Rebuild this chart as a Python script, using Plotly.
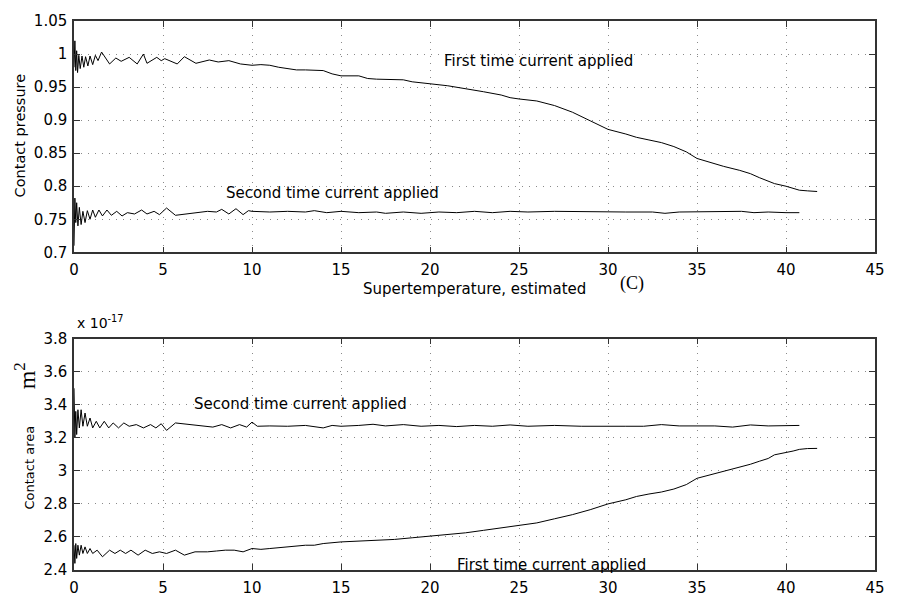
import plotly.graph_objects as go

# ---------------- data ----------------
# Top panel: contact pressure vs supertemperature (C)
p_first_x = [0, 0.05, 0.1, 0.15, 0.2, 0.27, 0.35, 0.45, 0.55, 0.65, 0.78, 0.9, 1.05, 1.2, 1.35,
             1.55, 2.0, 2.35, 2.65, 3.1, 3.55, 3.9, 4.1, 4.65, 4.9, 5.1, 5.8, 6.2, 6.85, 7.6,
             8.1, 8.7, 9.35, 10, 10.5, 11, 11.5, 12, 12.5, 13, 13.5, 14, 14.5, 15, 16, 16.5,
             17, 18, 18.5, 19, 19.5, 20, 21, 21.5, 22, 23, 24, 24.5, 25, 26, 27, 28, 29, 30,
             31, 31.6, 32.3, 33, 33.7, 34.4, 35, 35.7, 36.5, 37.4, 38, 38.5, 39, 39.35, 40,
             40.4, 40.75, 41.2, 41.75]
p_first_y = [0.98, 1.02, 0.975, 1.005, 0.972, 0.998, 0.978, 0.997, 0.98, 0.996, 0.982, 0.997,
             0.984, 0.998, 0.99, 1.003, 0.985, 0.994, 0.989, 0.995, 0.985, 1.0, 0.986, 0.995,
             0.99, 0.993, 0.985, 0.996, 0.986, 0.991, 0.988, 0.99, 0.985, 0.983, 0.984, 0.983,
             0.98, 0.978, 0.976, 0.976, 0.975, 0.975, 0.97, 0.967, 0.967, 0.963, 0.962, 0.962,
             0.961, 0.958, 0.956, 0.955, 0.952, 0.95, 0.948, 0.943, 0.938, 0.934, 0.932, 0.929,
             0.922, 0.912, 0.899, 0.886, 0.879, 0.874, 0.87, 0.866, 0.86, 0.852, 0.842, 0.836,
             0.83, 0.824, 0.819, 0.813, 0.808, 0.804, 0.8, 0.797, 0.794, 0.793, 0.792]

p_second_x = [0, 0.05, 0.1, 0.15, 0.22, 0.3, 0.4, 0.5, 0.62, 0.75, 0.9, 1.05, 1.2, 1.4, 1.6,
              1.85, 2.1, 2.4, 2.7, 3.0, 3.4, 3.8, 4.1, 4.5, 4.8, 5.2, 5.7, 6.5, 7.5, 8.0, 8.3,
              8.7, 9.1, 9.5, 9.8, 10, 11, 12, 13, 13.5, 14.2, 15, 16, 17, 17.5, 18.5, 19.5,
              20.5, 21.5, 22.5, 23.5, 24.5, 25.5, 27, 29, 31, 32.5, 33.2, 34, 35, 36.5, 37.5,
              38.2, 39, 40, 40.75]
p_second_y = [0.71, 0.782, 0.745, 0.775, 0.74, 0.768, 0.742, 0.762, 0.745, 0.763, 0.75, 0.764,
              0.753, 0.764, 0.755, 0.764, 0.756, 0.762, 0.755, 0.76, 0.758, 0.764, 0.758, 0.762,
              0.757, 0.767, 0.756, 0.759, 0.762, 0.761, 0.765, 0.758, 0.766, 0.757, 0.763, 0.762,
              0.761, 0.762, 0.761, 0.763, 0.76, 0.762, 0.76, 0.761, 0.759, 0.761, 0.759, 0.761,
              0.76, 0.762, 0.76, 0.762, 0.761, 0.762, 0.761, 0.761, 0.761, 0.759, 0.761, 0.761,
              0.761, 0.762, 0.76, 0.761, 0.76, 0.76]

# Bottom panel: contact area (units of 1e-17 m^2)
a_second_x = [0, 0.05, 0.1, 0.15, 0.22, 0.3, 0.4, 0.5, 0.62, 0.75, 0.9, 1.05, 1.25, 1.45, 1.7,
              1.95, 2.2, 2.5, 2.8, 3.1, 3.5, 3.9, 4.3, 4.6, 4.9, 5.2, 5.7, 6.5, 7.3, 7.8, 8.3,
              8.8, 9.3, 9.7, 10, 10.3, 11, 12, 13, 14, 14.5, 15, 16, 16.8, 17.5, 18.5, 19.5,
              20.5, 21.5, 22.5, 23.5, 24.5, 25.5, 27, 28.5, 30, 31, 32, 33, 34, 35, 36, 37, 38,
              39, 40, 40.75]
a_second_y = [3.5, 3.2, 3.36, 3.22, 3.37, 3.26, 3.37, 3.27, 3.35, 3.27, 3.32, 3.26, 3.3, 3.26,
              3.3, 3.26, 3.29, 3.26, 3.29, 3.27, 3.28, 3.26, 3.28, 3.26, 3.285, 3.245, 3.29,
              3.28, 3.27, 3.265, 3.28, 3.26, 3.28, 3.265, 3.295, 3.27, 3.272, 3.27, 3.275, 3.26,
              3.275, 3.27, 3.275, 3.282, 3.272, 3.28, 3.27, 3.275, 3.268, 3.275, 3.27, 3.278,
              3.27, 3.275, 3.27, 3.272, 3.27, 3.27, 3.28, 3.272, 3.272, 3.272, 3.265, 3.278,
              3.272, 3.275, 3.275]

a_first_x = [0, 0.05, 0.1, 0.15, 0.22, 0.3, 0.4, 0.5, 0.62, 0.75, 0.9, 1.05, 1.3, 1.6, 2.0,
             2.3, 2.6, 2.9, 3.2, 3.6, 4.0, 4.4, 4.8, 5.2, 5.7, 6.2, 6.8, 7.5, 8.0, 8.5, 9.0,
             9.5, 10, 10.5, 11, 11.5, 12, 12.5, 13, 13.5, 14, 15, 16, 17, 18, 19, 20, 21, 22,
             23, 24, 25, 26, 27, 28, 29, 30, 31, 31.6, 32.3, 33, 33.7, 34.4, 35, 35.7, 36.5,
             37.4, 38, 38.5, 39, 39.35, 40, 40.4, 40.75, 41.2, 41.75]
a_first_y = [2.55, 2.44, 2.56, 2.47, 2.55, 2.49, 2.55, 2.5, 2.54, 2.5, 2.53, 2.5, 2.52, 2.48,
             2.52, 2.5, 2.52, 2.5, 2.52, 2.49, 2.52, 2.5, 2.51, 2.5, 2.52, 2.49, 2.51, 2.51,
             2.515, 2.52, 2.52, 2.51, 2.53, 2.525, 2.53, 2.535, 2.54, 2.545, 2.55, 2.55, 2.56,
             2.57, 2.575, 2.58, 2.585, 2.595, 2.605, 2.615, 2.625, 2.64, 2.655, 2.672, 2.685,
             2.71, 2.735, 2.765, 2.8, 2.825, 2.845, 2.86, 2.872, 2.89, 2.917, 2.955, 2.975,
             2.998, 3.02, 3.04, 3.058, 3.075, 3.097, 3.11, 3.12, 3.13, 3.135, 3.136]

x_ticks = [0, 5, 10, 15, 20, 25, 30, 35, 40, 45]
p_ticks = [0.7, 0.75, 0.8, 0.85, 0.9, 0.95, 1.0, 1.05]
p_tick_text = ["0.7", "0.75", "0.8", "0.85", "0.9", "0.95", "1", "1.05"]
a_ticks = [2.4, 2.6, 2.8, 3.0, 3.2, 3.4, 3.6, 3.8]
a_tick_text = ["2.4", "2.6", "2.8", "3", "3.2", "3.4", "3.6", "3.8"]

# ---------------- figure ----------------
W, H = 897, 609
ML, MR, MT, MB = 74, 18, 12, 25
PW, PH = W - ML - MR, H - MT - MB


def px(xp):
    return (xp - ML) / PW


def py(yp):
    return (H - MB - yp) / PH


FONT = "DejaVu Sans"
SERIF = "Liberation Serif"
line_style = dict(color="black", width=1)

fig = go.Figure()
fig.add_trace(go.Scatter(x=p_first_x, y=p_first_y, mode="lines", line=line_style,
                         xaxis="x", yaxis="y", showlegend=False))
fig.add_trace(go.Scatter(x=p_second_x, y=p_second_y, mode="lines", line=line_style,
                         xaxis="x", yaxis="y", showlegend=False))
fig.add_trace(go.Scatter(x=a_second_x, y=a_second_y, mode="lines", line=line_style,
                         xaxis="x2", yaxis="y2", showlegend=False))
fig.add_trace(go.Scatter(x=a_first_x, y=a_first_y, mode="lines", line=line_style,
                         xaxis="x2", yaxis="y2", showlegend=False))

axis_common = dict(
    showline=True, linecolor="#333333", linewidth=1.5, mirror="ticks",
    ticks="inside", ticklen=6, tickcolor="#333333", tickwidth=1,
    showgrid=True, gridcolor="#8a8a8a", griddash="1px,6px", gridwidth=1,
    zeroline=False, tickfont=dict(family=FONT, size=15, color="black"),
)

top_dom = [py(253), 1.0]
bot_dom = [0.0, py(343)]

fig.update_layout(
    width=W, height=H,
    margin=dict(l=ML, r=MR, t=MT, b=MB, pad=0),
    paper_bgcolor="white", plot_bgcolor="white",
    xaxis=dict(axis_common, domain=[0, 1], anchor="y", range=[0, 45],
               tickvals=x_ticks, ticklabelstandoff=3),
    yaxis=dict(axis_common, domain=top_dom, anchor="x", range=[0.7, 1.05],
               tickvals=p_ticks, ticktext=p_tick_text, ticklabelstandoff=2),
    xaxis2=dict(axis_common, domain=[0, 1], anchor="y2", range=[0, 45],
                tickvals=x_ticks, ticklabelstandoff=3),
    yaxis2=dict(axis_common, domain=bot_dom, anchor="x2", range=[2.4, 3.8],
                tickvals=a_ticks, ticktext=a_tick_text, ticklabelstandoff=2),
)

txt = dict(family=FONT, size=15, color="black")
ann = [
    # in-plot labels (data coordinates)
    dict(x=26.1, y=0.989, xref="x", yref="y", text="First time current applied",
         showarrow=False, font=txt, xanchor="center", yanchor="middle"),
    dict(x=14.5, y=0.79, xref="x", yref="y", text="Second time current applied",
         showarrow=False, font=txt, xanchor="center", yanchor="middle"),
    dict(x=12.7, y=3.405, xref="x2", yref="y2", text="Second time current applied",
         showarrow=False, font=txt, xanchor="center", yanchor="middle"),
    dict(x=26.8, y=2.43, xref="x2", yref="y2", text="First time current applied",
         showarrow=False, font=txt, xanchor="center", yanchor="middle"),
    # axis titles
    dict(x=px(362), y=py(291), xref="paper", yref="paper",
         text="Supertemperature, estimated", showarrow=False, font=txt,
         xanchor="left", yanchor="middle"),
    dict(x=px(635), y=py(285), xref="paper", yref="paper", text="(C)",
         showarrow=False, font=dict(family=SERIF, size=18, color="black"),
         xanchor="center", yanchor="middle"),
    dict(x=px(20), y=py(131), xref="paper", yref="paper", text="Contact pressure",
         showarrow=False, font=dict(family=FONT, size=14.5, color="black"),
         textangle=-90, xanchor="center", yanchor="middle"),
    dict(x=px(29), y=py(477), xref="paper", yref="paper", text="Contact area",
         showarrow=False, font=dict(family=FONT, size=13, color="black"),
         textangle=-90, xanchor="center", yanchor="middle"),
    dict(x=px(25), y=py(382), xref="paper", yref="paper", text="m<sup>2</sup>",
         showarrow=False, font=dict(family=SERIF, size=24, color="black"),
         textangle=-90, xanchor="center", yanchor="middle"),
    dict(x=px(75), y=py(337), xref="paper", yref="paper", text="x 10<sup>-17</sup>",
         showarrow=False, font=dict(family=FONT, size=14, color="black"),
         xanchor="left", yanchor="bottom"),
]
fig.update_layout(annotations=ann)

fig.write_html("out.html")
